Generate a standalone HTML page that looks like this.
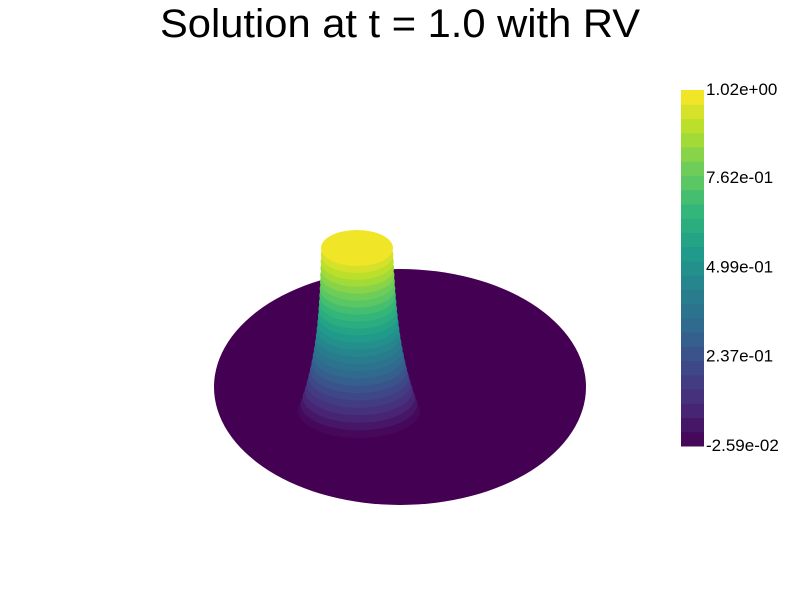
<!DOCTYPE html>
<html><head><meta charset="utf-8"><style>
html,body{margin:0;padding:0;background:#fff;width:800px;height:600px;overflow:hidden}
svg{display:block}
</style></head><body>
<svg id="chart" width="800" height="600" viewBox="0 0 800 600" xmlns="http://www.w3.org/2000/svg" font-family="Liberation Sans, sans-serif">
<text x="160" y="37" font-size="40" textLength="480" lengthAdjust="spacingAndGlyphs" fill="#000">Solution at t = 1.0 with RV</text>
<ellipse cx="400" cy="387" rx="186" ry="118" fill="#440154"/>
<g id="bump"></g>
<g id="cbar"></g>
</svg>
<script>
const vmin = -0.0259, vmax = 1.02;
const tickValues = [1.02, 0.762, 0.499, 0.237, -0.0259];
const tickLabels = ["1.02e+00","7.62e-01","4.99e-01","2.37e-01","-2.59e-02"];
const nBands = 25;
const vir = [[68,1,84],[72,40,120],[62,73,137],[49,104,142],[38,130,142],[31,158,137],[53,183,121],[109,205,89],[180,222,44],[253,231,37]];
function viridis(t){t=Math.max(0,Math.min(1,t));const p=t*(vir.length-1),i=Math.min(Math.floor(p),vir.length-2),f=p-i;
 const c=vir[i].map((v,k)=>Math.round(v+(vir[i+1][k]-v)*f));return `rgb(${c[0]},${c[1]},${c[2]})`;}
const NS="http://www.w3.org/2000/svg";
const cb=document.getElementById('cbar');
const cbTop=90, cbBot=446, cbX=681, cbW=23;
function yScale(v){return cbBot-(v-vmin)/(vmax-vmin)*(cbBot-cbTop);}
for(let i=0;i<nBands;i++){
 const r=document.createElementNS(NS,'rect');
 const h=(cbBot-cbTop)/nBands;
 r.setAttribute('x',cbX);r.setAttribute('y',cbBot-(i+1)*h);r.setAttribute('width',cbW);r.setAttribute('height',h+0.5);
 r.setAttribute('fill',viridis((i+0.5)/nBands));
 
 
 cb.appendChild(r);
}
tickValues.forEach((v,i)=>{
 const t=document.createElementNS(NS,'text');
 t.setAttribute('x',706);t.setAttribute('y',yScale(v)+5);t.setAttribute('font-size','17');t.setAttribute('fill','#000');
 t.textContent=tickLabels[i];
 
 
 cb.appendChild(t);
});
const bump=document.getElementById('bump');
for(let i=0;i<nBands;i++){
 const t=i/(nBands-1);
 const u=1-t;
 const cy=411-163*t;
 const rx=36+6*u+19*Math.pow(u,3);
 const ry=18+3*u+6*Math.pow(u,3);
 const cx=359-2*t;
 const e=document.createElementNS(NS,'ellipse');
 e.setAttribute('cx',cx);e.setAttribute('cy',cy);e.setAttribute('rx',rx);e.setAttribute('ry',ry);
 e.setAttribute('fill',viridis((i+0.5)/nBands));
 
 
 bump.appendChild(e);
}
</script>
</body></html>
